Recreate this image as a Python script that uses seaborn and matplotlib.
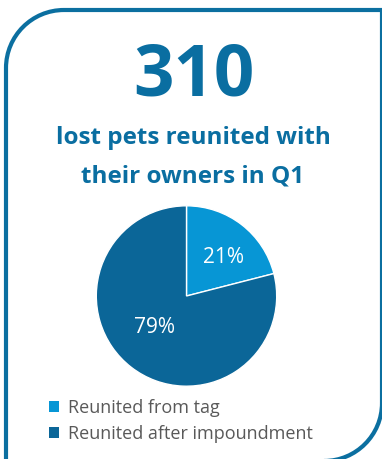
import matplotlib
matplotlib.use("Agg")
import matplotlib.pyplot as plt
import seaborn as sns
from matplotlib.path import Path
from matplotlib.patches import PathPatch, Patch

# ---- data ----
headline_value = "310"
subtitle_lines = ["lost pets reunited with", "their owners in Q1"]
categories = ["Reunited from tag", "Reunited after impoundment"]
shares = [21, 79]
slice_colors = ["#0796D5", "#0B6698"]

sns.set_theme(style="white")
plt.rcParams["font.family"] = ["Open Sans", "DejaVu Sans"]

W, H = 382, 459
fig = plt.figure(figsize=(W / 100, H / 100), dpi=100)
fig.patch.set_facecolor("white")

# overlay axes in pixel coordinates
ax0 = fig.add_axes([0, 0, 1, 1])
ax0.set_xlim(0, W)
ax0.set_ylim(H, 0)
ax0.axis("off")

# border: rounded top-left and bottom-right corners
k = 0.5523
r = 58
xl, yt, xr, yb = 6, 10, 382, 461
verts = [
    (xl, yb + 20),
    (xl, yt + r),
    (xl, yt + r - k * r), (xl + r - k * r, yt), (xl + r, yt),
    (xr, yt),
    (xr, yb - r),
    (xr, yb - r + k * r), (xr - r + k * r, yb), (xr - r, yb),
]
codes = [Path.MOVETO, Path.LINETO,
         Path.CURVE4, Path.CURVE4, Path.CURVE4,
         Path.LINETO, Path.LINETO,
         Path.CURVE4, Path.CURVE4, Path.CURVE4]
ax0.add_patch(PathPatch(Path(verts, codes), facecolor="none",
                        edgecolor="#0B6FA0", lw=3.0, capstyle="butt",
                        joinstyle="miter"))

title_color = "#0A6EA1"
ax0.text(194, 76, headline_value, ha="center", va="center",
         fontsize=51, fontweight="bold", color=title_color)
ax0.text(193, 138, subtitle_lines[0], ha="center", va="center",
         fontsize=17.5, fontweight="bold", color=title_color)
ax0.text(193, 177, subtitle_lines[1], ha="center", va="center",
         fontsize=17.5, fontweight="bold", color=title_color)

# pie
cx, cy, rad = 186.5, 296, 92
ax = fig.add_axes([(cx - rad) / W, (H - cy - rad) / H, 2 * rad / W, 2 * rad / H])
wedges, texts, autotexts = ax.pie(
    shares, colors=slice_colors, startangle=90, counterclock=False,
    autopct=lambda p: f"{p:.0f}%", pctdistance=0.6,
    wedgeprops=dict(edgecolor="white", linewidth=1.0),
    textprops=dict(color="white", fontsize=15))
# label placement (axes units of the pie, as in the reference)
label_pos = [(0.41, 0.43), (-0.36, -0.35)]
for t, p in zip(autotexts, label_pos):
    t.set_position(p)
    t.set_va("center")
ax.set_xlim(-1.02, 1.02)
ax.set_ylim(-1.02, 1.02)
ax.set_aspect("equal")

handles = [Patch(facecolor=c, edgecolor="none") for c in slice_colors]
leg = ax0.legend(handles, categories, loc="upper left",
                 bbox_to_anchor=(49, 399), bbox_transform=ax0.transData,
                 frameon=False, fontsize=13, handlelength=0.55,
                 handleheight=0.55, handletextpad=0.5, labelspacing=0.45,
                 borderpad=0, borderaxespad=0)
for t in leg.get_texts():
    t.set_color("#595959")

fig.savefig("out.png", dpi=100, facecolor="white")
